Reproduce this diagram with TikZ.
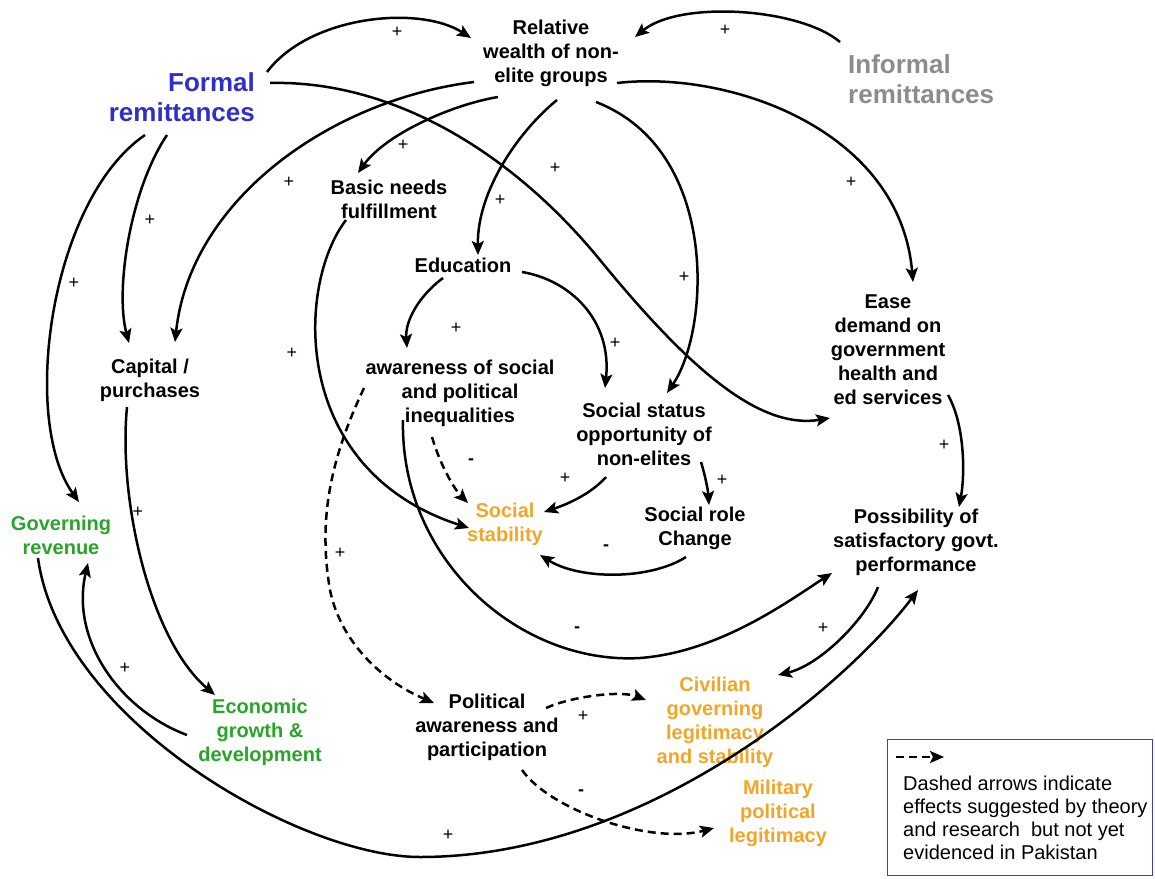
\documentclass[tikz,border=0pt]{standalone}
\usepackage{fontspec}
\setmainfont{Liberation Sans}
\usetikzlibrary{arrows.meta}
\definecolor{fblue}{RGB}{48,48,200}
\definecolor{igray}{RGB}{140,140,140}
\definecolor{orng}{RGB}{242,165,40}
\definecolor{grn}{RGB}{40,165,40}
\definecolor{lblue}{RGB}{60,60,200}
\begin{document}
\begin{tikzpicture}[x=1pt,y=-1pt,
  lbl/.style={font=\fontsize{20}{24}\selectfont\bfseries, align=center, inner sep=0pt},
  big/.style={font=\fontsize{26}{30}\selectfont\bfseries, inner sep=0pt},
  sgn/.style={font=\fontsize{18}{18}\selectfont, inner sep=0pt},
  link/.style={line width=2.5pt, -{Stealth[length=14pt,width=12pt,inset=3pt]}},
  dlink/.style={link, dash pattern=on 8pt off 5pt},
]
\useasboundingbox (0,0) rectangle (1155,878);
% nodes
\node[big, text=fblue, align=right, anchor=east] (formal) at (255,97) {Formal\\remittances};
\node[big, text=igray, align=left, anchor=west] (informal) at (848,79) {Informal\\remittances};
\node[lbl] (relative) at (551,53) {Relative\\wealth of non-\\elite groups};
\node[lbl] (basic) at (389,199) {Basic needs\\fulfillment};
\node[lbl] (education) at (463,265) {Education};
\node[lbl] (capital) at (150,380) {Capital /\\purchases};
\node[lbl] (aware) at (460,393) {awareness of social\\and political\\inequalities};
\node[lbl] (status) at (644,434) {Social status\\opportunity of\\non-elites};
\node[lbl] (ease) at (888,350) {Ease\\demand on\\government\\health and\\ed services};
\node[lbl] (possib) at (916,542) {Possibility of\\satisfactory govt.\\performance};
\node[lbl, text=orng] (stability) at (505,524) {Social\\stability};
\node[lbl] (role) at (695,528) {Social role\\Change};
\node[lbl, text=grn] (govrev) at (61,535) {Governing\\revenue};
\node[lbl, text=grn] (econ) at (260,732) {Economic\\growth \&\\development};
\node[lbl] (polit) at (487,727) {Political\\awareness and\\participation};
\node[lbl, text=orng] (civil) at (715,722) {Civilian\\governing\\legitimacy\\and stability};
\node[lbl, text=orng] (milit) at (778,813) {Military\\political\\legitimacy};
% connectors
\draw[link] ([shift={(12,-25)}]formal.east) .. controls (310,15) and (420,5) .. ([shift={(-80,-15)}]relative.center);
\draw[link] ([shift={(-8,-37)}]informal.west) .. controls (800,8) and (680,0) .. ([shift={(84,-16)}]relative.center);
\draw[link] ([shift={(66,30)}]relative.center) .. controls (730,70) and (900,130) .. ([shift={(25,-68)}]ease.center);
\draw[link] ([shift={(15,-14)}]formal.east) .. controls (390,80) and (510,150) .. (600,260) .. controls (690,370) and (760,430) .. ([shift={(-58,68)}]ease.center);
\draw[link] ([shift={(-77,29)}]relative.center) .. controls (330,100) and (190,200) .. ([shift={(25,-38)}]capital.center);
\draw[link] ([shift={(-53,44)}]relative.center) .. controls (450,105) and (385,135) .. ([shift={(-31,-26)}]basic.center);
\draw[link] ([shift={(6,47)}]relative.center) .. controls (520,130) and (477,190) .. ([shift={(15,-10)}]education.center);
\draw[link] ([shift={(45,49)}]relative.center) .. controls (720,150) and (710,330) .. ([shift={(23,-41)}]status.center);
\draw[link] ([shift={(-20,13)}]education.center) .. controls (420,295) and (405,320) .. ([shift={(-53,-45)}]aware.center);
\draw[link] ([shift={(59,7)}]education.center) .. controls (570,280) and (612,320) .. ([shift={(-39,-46)}]status.center);
\draw[link] ([shift={(-88,38)}]formal.east) .. controls (130,190) and (115,290) .. ([shift={(-21,-37)}]capital.center);
\draw[link] ([shift={(-110,38)}]formal.east) .. controls (50,200) and (20,420) .. ([shift={(18,-33)}]govrev.center);
\draw[link] ([shift={(-43,21)}]basic.center) .. controls (296,285) and (290,470) .. ([shift={(-36,4)}]stability.center);
\draw[dlink] ([shift={(-28,44)}]aware.center) .. controls (440,465) and (455,490) .. ([shift={(-37,-21)}]stability.center);
\draw[dlink] ([shift={(-96,-5)}]aware.center) .. controls (330,460) and (318,520) .. (330,590) .. controls (340,640) and (380,680) .. ([shift={(-53,-24)}]polit.center);
\draw[link] ([shift={(-57,27)}]aware.center) .. controls (400,560) and (520,665) .. (640,658) .. controls (720,652) and (790,600) .. ([shift={(-84,31)}]possib.center);
\draw[link] ([shift={(-38,43)}]status.center) .. controls (590,495) and (565,505) .. ([shift={(39,-12)}]stability.center);
\draw[link] ([shift={(57,28)}]status.center) .. controls (705,475) and (708,490) .. ([shift={(14,-23)}]role.center);
\draw[link] ([shift={(-9,29)}]role.center) .. controls (650,580) and (580,580) .. ([shift={(35,31)}]stability.center);
\draw[link] ([shift={(60,45)}]ease.center) .. controls (965,425) and (965,475) .. ([shift={(43,-35)}]possib.center);
\draw[link] ([shift={(-23,23)}]govrev.center) .. controls (60,720) and (300,857) .. (420,857) .. controls (650,857) and (850,680) .. ([shift={(2,48)}]possib.center);
\draw[link] ([shift={(-38,45)}]possib.center) .. controls (865,620) and (820,665) .. ([shift={(63,-47)}]civil.center);
\draw[dlink] ([shift={(59,-19)}]polit.center) .. controls (570,697) and (620,690) .. ([shift={(-69,-22)}]civil.center);
\draw[dlink] ([shift={(35,43)}]polit.center) .. controls (550,810) and (650,845) .. ([shift={(-64,15)}]milit.center);
\draw[link] ([shift={(-23,27)}]capital.center) .. controls (118,500) and (150,640) .. ([shift={(-45,-37)}]econ.center);
\draw[link] ([shift={(-73,3)}]econ.center) .. controls (120,710) and (70,640) .. ([shift={(27,28)}]govrev.center);
% signs
\node[sgn] (s1) at (397,32) {+};
\node[sgn] (s2) at (725,30) {+};
\node[sgn] (s3) at (851,182) {+};
\node[sgn] (s4) at (555,168) {+};
\node[sgn] (s5) at (289,182) {+};
\node[sgn] (s6) at (403,145) {+};
\node[sgn] (s7) at (500,200) {+};
\node[sgn] (s8) at (684,277) {+};
\node[sgn] (s9) at (456,328) {+};
\node[sgn] (s10) at (615,343) {+};
\node[sgn] (s11) at (150,220) {+};
\node[sgn] (s12) at (74,283) {+};
\node[sgn] (s13) at (292,353) {+};
\node[sgn] (s14) at (471,462) {\bfseries -};
\node[sgn] (s15) at (340,553) {+};
\node[sgn] (s16) at (577,630) {\bfseries -};
\node[sgn] (s17) at (565,478) {+};
\node[sgn] (s18) at (722,480) {+};
\node[sgn] (s19) at (606,548) {\bfseries -};
\node[sgn] (s20) at (944,445) {+};
\node[sgn] (s21) at (448,835) {+};
\node[sgn] (s22) at (823,628) {+};
\node[sgn] (s23) at (583,716) {+};
\node[sgn] (s24) at (581,793) {\bfseries -};
\node[sgn] (s25) at (138,512) {+};
\node[sgn] (s26) at (125,668) {+};
% legend
\node[draw=lblue, line width=1.5pt, minimum width=265pt, minimum height=136pt, inner sep=0pt] (legend) at (1020,807.5) {};
\coordinate (lgA) at (896,757);
\coordinate (lgB) at (944,757);
\draw[dlink] (lgA) -- (lgB);
\node[anchor=north west, align=left, font=\fontsize{20}{23}\selectfont, inner sep=0pt] (legtext) at (903,776) {Dashed arrows indicate\\effects suggested by theory\\and research\ \ but not yet\\evidenced in Pakistan};
\end{tikzpicture}
\end{document}
